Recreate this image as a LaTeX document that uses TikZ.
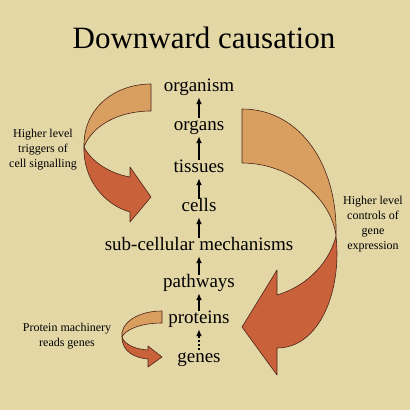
\documentclass[tikz,border=0pt]{standalone}
\usepackage{fontspec}
\setmainfont{LiberationSerif}[Extension=.ttf, UprightFont=*-Regular, BoldFont=*-Bold, ItalicFont=*-Italic, BoldItalicFont=*-BoldItalic]
\usepackage{xcolor}
\usepackage{tikz}
\usetikzlibrary{positioning,%
  arrows.meta,%
  calc%
}
\definecolor{paper}{HTML}{E4D7A6}
\definecolor{ribbontop}{HTML}{D99F60}
\definecolor{ribbonback}{HTML}{C9613B}
\definecolor{ribbonline}{HTML}{4A2418}

\begin{document}
\begin{tikzpicture}[x=1pt,y=-1pt,
    level/.style={font=\fontsize{19}{22}\selectfont, inner sep=1pt, text height=11pt, text depth=5pt, anchor=base},
    note/.style={font=\fontsize{12}{15}\selectfont, align=center, inner sep=0pt},
    up/.style={line width=1.8pt, -{Latex[length=7pt,width=6pt]}},
    ribbon/.style={draw=ribbonline, line width=0.6pt, line join=round}]
    \fill[paper] (0,0) rectangle (410,410);
    \useasboundingbox (0,0) rectangle (410,410);

    \node[font=\fontsize{31}{36}\selectfont, anchor=base] (title) at (204,48) {Downward causation};

    \node[level] (organism) at (199,91) {organism};
    \node[level] (organs) at (199,130) {organs};
    \node[level] (tissues) at (199,172) {tissues};
    \node[level] (cells) at (199,211) {cells};
    \node[level] (subcell) at (199,250) {sub-cellular mechanisms};
    \node[level] (pathways) at (199,287) {pathways};
    \node[level] (proteins) at (199,323) {proteins};
    \node[level] (genes) at (199,362) {genes};

    \foreach \a/\b in {organs/organism, tissues/organs, cells/tissues, subcell/cells, pathways/subcell, proteins/pathways}
        \draw[up] (\a) -- (\b);
    \draw[up, dash pattern=on 2pt off 2pt] (genes) -- (proteins);

    % signalling ribbon
    \filldraw[ribbon, fill=ribbontop] (151,84) -- (151,111) .. controls (118,111) and (92,126) .. (84,147)
        .. controls (83,108) and (115,84) .. (151,84) -- cycle;
    \filldraw[ribbon, fill=ribbonback] (84,147) .. controls (83,180) and (105,205) .. (130,212) -- (130,222)
        -- (151,197) -- (130,167) -- (130,177) .. controls (112,174) and (92,163) .. (84,147) -- cycle;

    % gene expression ribbon
    \filldraw[ribbon, fill=ribbontop] (242,109) -- (242,163) .. controls (292,163) and (332,200) .. (336,236)
        .. controls (338,165) and (300,109) .. (242,109) -- cycle;
    \filldraw[ribbon, fill=ribbonback] (336,236) .. controls (342,290) and (320,348) .. (277,348) -- (277,375)
        -- (242,327) -- (277,270) -- (277,295) .. controls (310,285) and (330,260) .. (336,236) -- cycle;

    % reading ribbon
    \filldraw[ribbon, fill=ribbontop] (162,311) -- (162,323) .. controls (140,323) and (125,330) .. (122,337)
        .. controls (120,325) and (135,311) .. (162,311) -- cycle;
    \filldraw[ribbon, fill=ribbonback] (122,337) .. controls (122,352) and (135,358) .. (148,359) -- (148,367)
        -- (162,357) -- (148,346) -- (148,350) .. controls (135,349) and (125,345) .. (122,337) -- cycle;

    \node[note] (signalling) at (43,150) {Higher level\\triggers of\\cell signalling};
    \node[note] (expression) at (373,224) {Higher level\\controls of\\gene\\expression};
    \node[note] (machinery) at (67,336) {Protein machinery\\reads genes};
\end{tikzpicture}
\end{document}
